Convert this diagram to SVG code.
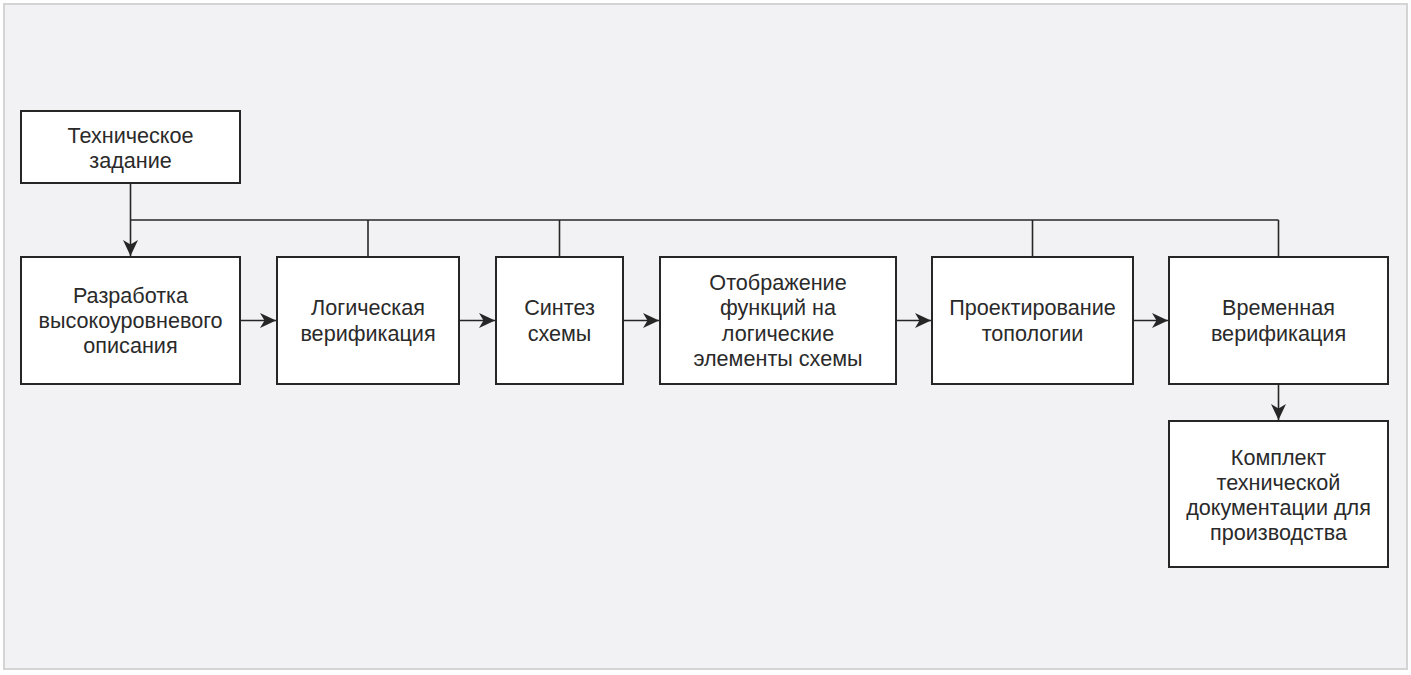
<svg xmlns="http://www.w3.org/2000/svg" width="1411" height="675" viewBox="0 0 1411 675">
<style>
.box{fill:#ffffff;stroke:#262626;stroke-width:2}
.ln{fill:none;stroke:#262626;stroke-width:1.6}
.t{font-family:"Liberation Sans",Arial,sans-serif;font-size:21.6px;fill:#2a2a2a;text-anchor:middle}
</style>
<defs>
<marker id="arr" viewBox="-17 -8 18 16" refX="0" refY="0" markerWidth="18" markerHeight="16" markerUnits="userSpaceOnUse" orient="auto">
<path d="M0,0 L-16,-7.5 L-11.5,0 L-16,7.5 Z" fill="#262626"/>
</marker>
</defs>
<rect x="0" y="0" width="1411" height="675" fill="#ffffff"/>
<rect x="4" y="4" width="1403" height="665" fill="#f2f2f4" stroke="#d4d4d4" stroke-width="2"/>
<g id="connectors">
<path class="ln" d="M130.5,183 V256" marker-end="url(#arr)"/>
<path class="ln" d="M130.5,220 H1278.5"/>
<path class="ln" d="M368,220 V257"/>
<path class="ln" d="M559.5,220 V257"/>
<path class="ln" d="M1032.5,220 V257"/>
<path class="ln" d="M1278.5,220 V257"/>
<path class="ln" d="M240,320.5 H276" marker-end="url(#arr)"/>
<path class="ln" d="M459,320.5 H495" marker-end="url(#arr)"/>
<path class="ln" d="M623,320.5 H659" marker-end="url(#arr)"/>
<path class="ln" d="M896,320.5 H931" marker-end="url(#arr)"/>
<path class="ln" d="M1133,320.5 H1168" marker-end="url(#arr)"/>
<path class="ln" d="M1278.5,384 V420" marker-end="url(#arr)"/>
</g>
<g id="n1">
<rect class="box" x="21" y="111" width="219" height="72"/>
<text class="t" x="130.5" y="142.5">Техническое</text>
<text class="t" x="130.5" y="167.8">задание</text>
</g>
<g id="n2">
<rect class="box" x="21" y="257" width="219" height="127"/>
<text class="t" x="130.5" y="302.7">Разработка</text>
<text class="t" x="130.5" y="328">высокоуровневого</text>
<text class="t" x="130.5" y="353.3">описания</text>
</g>
<g id="n3">
<rect class="box" x="277" y="257" width="182" height="127"/>
<text class="t" x="368" y="315.3">Логическая</text>
<text class="t" x="368" y="340.6">верификация</text>
</g>
<g id="n4">
<rect class="box" x="496" y="257" width="127" height="127"/>
<text class="t" x="559.5" y="315.3">Синтез</text>
<text class="t" x="559.5" y="340.6">схемы</text>
</g>
<g id="n5">
<rect class="box" x="660" y="257" width="236" height="127"/>
<text class="t" x="778" y="290">Отображение</text>
<text class="t" x="778" y="315.3">функций на</text>
<text class="t" x="778" y="340.6">логические</text>
<text class="t" x="778" y="365.9">элементы схемы</text>
</g>
<g id="n6">
<rect class="box" x="932" y="257" width="201" height="127"/>
<text class="t" x="1032.5" y="315.3">Проектирование</text>
<text class="t" x="1032.5" y="340.6">топологии</text>
</g>
<g id="n7">
<rect class="box" x="1169" y="257" width="219" height="127"/>
<text class="t" x="1278.5" y="315.3">Временная</text>
<text class="t" x="1278.5" y="340.6">верификация</text>
</g>
<g id="n8">
<rect class="box" x="1169" y="421" width="219" height="146"/>
<text class="t" x="1278.5" y="464.5">Комплект</text>
<text class="t" x="1278.5" y="489.8">технической</text>
<text class="t" x="1278.5" y="515.1">документации для</text>
<text class="t" x="1278.5" y="540.4">производства</text>
</g>
</svg>
